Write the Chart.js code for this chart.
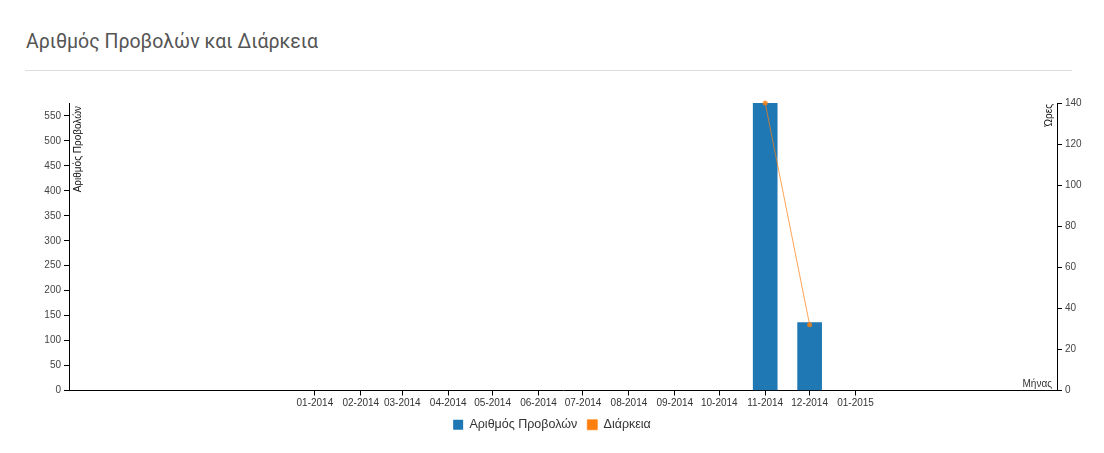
<!DOCTYPE html>
<html>
<head>
<meta charset="utf-8">
<script src="https://cdn.jsdelivr.net/npm/chart.js@4"></script>
<style>
  body { margin: 0; background: #fff; width: 1104px; height: 453px; overflow: hidden; font-family: Arial, "Liberation Sans", sans-serif; }
  #title { position: absolute; left: 26px; top: 30px; font: 19.5px Roboto, "Open Sans", sans-serif; color: #555; }
  #rule { position: absolute; left: 25px; right: 32px; top: 70px; border-top: 1px solid #ddd; }
  #wrap { position: absolute; left: 0; top: 0; width: 1104px; height: 453px; }
</style>
</head>
<body>
<div id="title">Αριθμός Προβολών και Διάρκεια</div>
<div id="rule"></div>
<div id="wrap"><canvas id="chart" width="1104" height="453"></canvas></div>
<script>
// Months with data
const months = ['2014-11', '2014-12'];
const views = [576, 136];
const hours = [140, 32];

// Axis ticks
const monthTicks = ['01-2014', '02-2014', '03-2014', '04-2014', '05-2014', '06-2014', '07-2014',
  '08-2014', '09-2014', '10-2014', '11-2014', '12-2014', '01-2015'];
const viewTicks = [0, 50, 100, 150, 200, 250, 300, 350, 400, 450, 500, 550];
const hourTicks = [0, 20, 40, 60, 80, 100, 120, 140];

// days since 2014-01-01
const base = Date.UTC(2014, 0, 1);
function dayOf(y, m) { return Math.round((Date.UTC(y, m - 1, 1) - base) / 86400000); }
function fromIso(s) { const [y, m] = s.split('-').map(Number); return dayOf(y, m); }
function fromLabel(s) { const [m, y] = s.split('-').map(Number); return dayOf(y, m); }

const tickDays = monthTicks.map(fromLabel);
const labelFor = {};
monthTicks.forEach((t, i) => { labelFor[tickDays[i]] = t; });

const axisFont = { family: 'Arial, "Liberation Sans", sans-serif', size: 10 };
const axisGrid = { drawOnChartArea: false, drawTicks: true, tickLength: 5, color: '#000', lineWidth: 1, offset: false };

// axis captions, drawn like the d3 original
const captions = {
  id: 'captions',
  afterDraw(chart) {
    const { ctx, chartArea } = chart;
    ctx.save();
    ctx.fillStyle = '#111';
    ctx.font = '10px Arial, "Liberation Sans", sans-serif';

    ctx.save();
    ctx.translate(chartArea.left + 4, chartArea.top + 3);
    ctx.rotate(-Math.PI / 2);
    ctx.textAlign = 'right';
    ctx.textBaseline = 'top';
    ctx.fillText('Αριθμός Προβολών', 0, 0);
    ctx.restore();

    ctx.save();
    ctx.translate(chartArea.right - 3, chartArea.top + 1);
    ctx.rotate(-Math.PI / 2);
    ctx.textAlign = 'right';
    ctx.textBaseline = 'bottom';
    ctx.fillText('Ώρες', 0, 0);
    ctx.restore();

    ctx.fillStyle = '#333';
    ctx.textAlign = 'right';
    ctx.textBaseline = 'alphabetic';
    ctx.fillText('Μήνας', chartArea.right - 5, chartArea.bottom - 4);
    ctx.restore();
  }
};

new Chart(document.getElementById('chart'), {
  data: {
    datasets: [
      {
        type: 'bar',
        label: 'Αριθμός Προβολών',
        data: months.map((m, i) => ({ x: fromIso(m), y: views[i] })),
        backgroundColor: '#1f77b4',
        borderWidth: 0,
        barThickness: 24,
        yAxisID: 'y',
        order: 2
      },
      {
        type: 'line',
        label: 'Διάρκεια',
        data: months.map((m, i) => ({ x: fromIso(m), y: hours[i] })),
        borderColor: 'rgba(255, 127, 14, 0.7)',
        backgroundColor: '#ff7f0e',
        borderWidth: 1,
        pointRadius: 2.5,
        pointBackgroundColor: 'rgba(255, 127, 14, 0.8)',
        pointBorderWidth: 0,
        tension: 0,
        clip: false,
        yAxisID: 'y1',
        order: 1
      }
    ]
  },
  plugins: [captions],
  options: {
    responsive: false,
    animation: false,
    layout: { padding: { top: 103, left: 0, right: 0, bottom: 12 } },
    plugins: {
      tooltip: { enabled: false },
      legend: {
        position: 'bottom',
        labels: {
          boxWidth: 10,
          boxHeight: 10,
          padding: 10,
          color: '#333',
          font: { family: 'Arial, "Liberation Sans", sans-serif', size: 12.5 },
          sort: (a, b) => a.datasetIndex - b.datasetIndex
        }
      }
    },
    scales: {
      x: {
        type: 'linear',
        offset: false,
        min: -166,
        max: 501,
        afterBuildTicks: s => { s.ticks = tickDays.map(v => ({ value: v })); },
        afterFit: s => { s.height = 18; },
        grid: axisGrid,
        border: { display: true, color: '#000', width: 1 },
        ticks: {
          autoSkip: false,
          maxRotation: 0,
          padding: 2,
          color: '#333',
          font: axisFont,
          callback: v => labelFor[v] || ''
        }
      },
      y: {
        position: 'left',
        min: 0,
        max: 576,
        afterBuildTicks: s => { s.ticks = viewTicks.map(v => ({ value: v })); },
        afterFit: s => { s.width = 69; },
        grid: axisGrid,
        border: { display: true, color: '#000', width: 1 },
        ticks: { color: '#444', font: axisFont, padding: 3 }
      },
      y1: {
        position: 'right',
        min: 0,
        max: 140,
        afterBuildTicks: s => { s.ticks = hourTicks.map(v => ({ value: v })); },
        afterFit: s => { s.width = 47; },
        grid: axisGrid,
        border: { display: true, color: '#000', width: 1 },
        ticks: { color: '#444', font: axisFont, padding: 3 }
      }
    }
  }
});
</script>
</body>
</html>
